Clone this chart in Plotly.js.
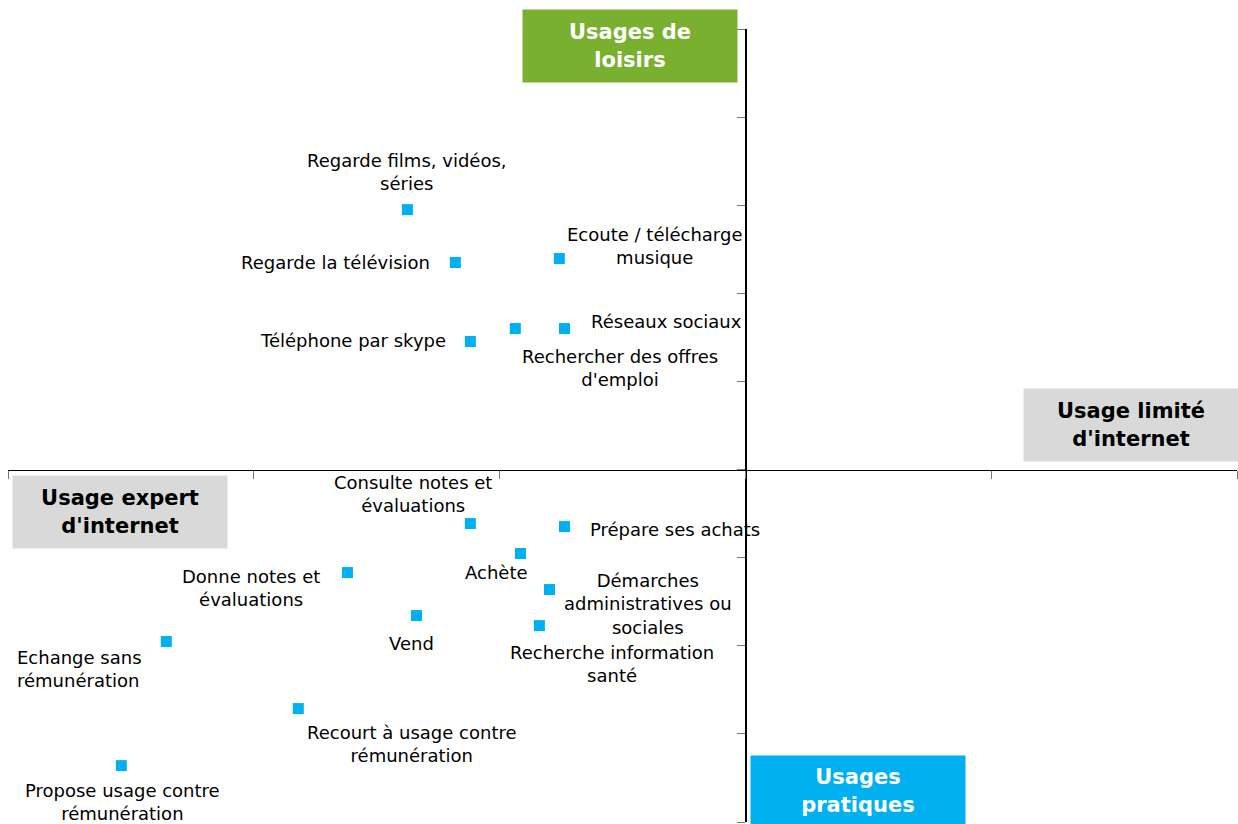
<!DOCTYPE html>
<html>
<head>
<meta charset="utf-8">
<script src="https://cdn.plot.ly/plotly-3.0.1.min.js"></script>
<style>
  html, body { margin: 0; padding: 0; background: #fff; }
  #chart { width: 1238px; height: 824px; }
</style>
</head>
<body>
<div id="chart"></div>
<script>
// Usages d'internet - positions on the two axes
const labels = [
    'Regarde films, vidéos,<br>séries',
    'Regarde la télévision',
    'Ecoute / télécharge<br>musique',
    'Téléphone par skype',
    'Rechercher des offres<br>d\'emploi',
    'Réseaux sociaux',
    'Consulte notes et<br>évaluations',
    'Prépare ses achats',
    'Achète',
    'Donne notes et<br>évaluations',
    'Démarches<br>administratives ou<br>sociales',
    'Vend',
    'Recherche information<br>santé',
    'Echange sans<br>rémunération',
    'Recourt à usage contre<br>rémunération',
    'Propose usage contre<br>rémunération'
];
const xValues = [-1.375, -1.18, -0.757, -1.119, -0.936, -0.736, -1.119, -0.736,
                 -0.915, -1.619, -0.797, -1.338, -0.838, -2.356, -1.819, -2.539];
const yValues = [2.95, 2.35, 2.395, 1.453, 1.60, 1.60, -0.613, -0.647,
                 -0.953, -1.169, -1.362, -1.657, -1.771, -1.952, -2.713, -3.36];

// quadrant captions
const quadrants = ['Usages de<br>loisirs', 'Usage limité<br>d\'internet',
                   'Usage expert<br>d\'internet', 'Usages<br>pratiques'];

// label placement (pixel offsets from the point)
const labelPlace = [
    {dx: 0, dy: 38, anchor: 'center'},
    {dx: -23, dy: 0, anchor: 'right'},
    {dx: 95, dy: 13, anchor: 'center'},
    {dx: -22, dy: 1, anchor: 'right'},
    {dx: 105, dy: -39, anchor: 'center'},
    {dx: 25, dy: 7, anchor: 'left'},
    {dx: -57, dy: 30, anchor: 'center'},
    {dx: 24, dy: -3, anchor: 'left'},
    {dx: -24, dy: -19, anchor: 'center'},
    {dx: -96, dy: -15, anchor: 'center'},
    {dx: 98, dy: -14, anchor: 'center'},
    {dx: -5, dy: -28, anchor: 'center'},
    {dx: 73, dy: -38, anchor: 'center'},
    {dx: -151, dy: -27, anchor: 'left', align: 'left'},
    {dx: 114, dy: -35, anchor: 'center'},
    {dx: 1, dy: -36, anchor: 'center'}
];

const quadStyle = [
    {x: 0.506, y: 0.978, bg: '#7AB030', color: '#fff', h: 72},
    {x: 0.914, y: 0.501, bg: '#D9D9D9', color: '#000', h: 72},
    {x: 0.091, y: 0.391, bg: '#D9D9D9', color: '#000', h: 72},
    {x: 0.692, y: 0.039, bg: '#00B0F0', color: '#fff', h: 70}
];

const FONT = 'DejaVu Sans, Verdana, sans-serif';

const trace = {
    x: xValues,
    y: yValues,
    type: 'scatter',
    mode: 'markers',
    marker: { symbol: 'square', size: 11, color: '#00B0F0' },
    hoverinfo: 'text',
    text: labels,
    cliponaxis: false
};

const annotations = labels.map((t, i) => ({
    x: xValues[i],
    y: yValues[i],
    xref: 'x',
    yref: 'y',
    text: t,
    showarrow: false,
    xanchor: labelPlace[i].anchor,
    yanchor: 'middle',
    align: labelPlace[i].align || 'center',
    xshift: labelPlace[i].dx,
    yshift: labelPlace[i].dy,
    font: { family: FONT, size: 18, color: '#000' }
}));

quadrants.forEach((t, i) => {
    const q = quadStyle[i];
    annotations.push({
        x: q.x,
        y: q.y,
        xref: 'paper',
        yref: 'paper',
        text: '<b>' + t + '</b>',
        showarrow: false,
        xanchor: 'center',
        yanchor: 'middle',
        width: 214,
        height: q.h,
        borderpad: 0,
        bgcolor: q.bg,
        font: { family: FONT, size: 21, color: q.color }
    });
});

const layout = {
    width: 1238,
    height: 824,
    margin: { l: 8, r: 1, t: 29, b: 2 },
    paper_bgcolor: '#fff',
    plot_bgcolor: '#fff',
    showlegend: false,
    xaxis: {
        range: [-3, 2],
        dtick: 1,
        tick0: 0,
        anchor: 'free',
        position: 4 / 9,
        showgrid: false,
        zeroline: false,
        showline: true,
        linecolor: '#000',
        linewidth: 1.5,
        ticks: 'outside',
        ticklen: 8,
        tickcolor: '#777',
        showticklabels: false,
        fixedrange: true
    },
    yaxis: {
        range: [-4, 5],
        dtick: 1,
        tick0: 0,
        anchor: 'free',
        position: 0.6,
        showgrid: false,
        zeroline: false,
        showline: true,
        linecolor: '#000',
        linewidth: 1.5,
        ticks: 'outside',
        ticklen: 8,
        tickcolor: '#777',
        showticklabels: false,
        fixedrange: true
    },
    annotations: annotations
};

Plotly.newPlot('chart', [trace], layout, { displayModeBar: false, staticPlot: true });
</script>
</body>
</html>
